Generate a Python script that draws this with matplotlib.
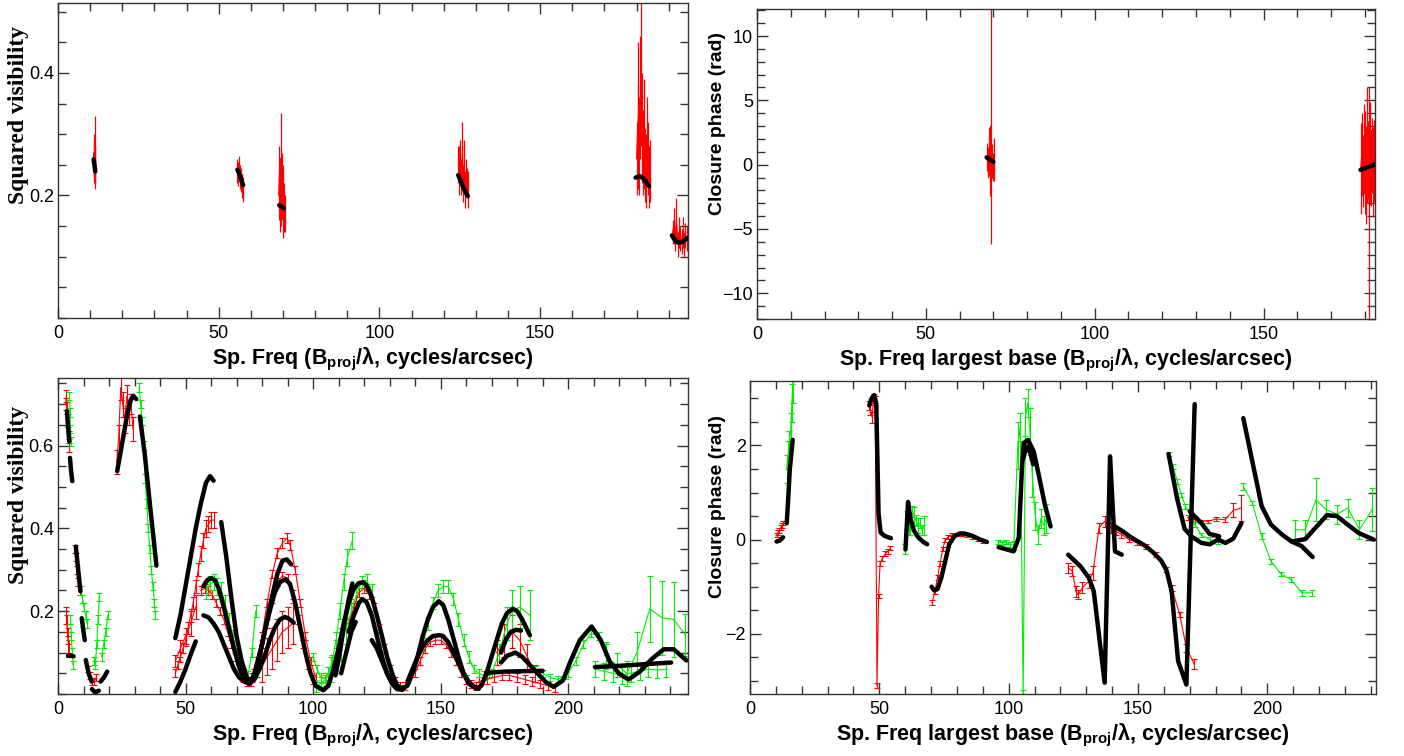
import matplotlib
matplotlib.use("Agg")
import matplotlib.pyplot as plt
from matplotlib.ticker import MultipleLocator, FixedLocator

RED = "#ff0000"
GREEN = "#00ee00"
SPINE = "#333333"

plt.rcParams["mathtext.fontset"] = "custom"
plt.rcParams["mathtext.bf"] = "Liberation Sans:bold"
plt.rcParams["mathtext.rm"] = "Liberation Sans"

XLABEL_VIS = r"Sp. Freq (B$_{\mathbf{proj}}$/λ, cycles/arcsec)"
XLABEL_CP = r"Sp. Freq largest base (B$_{\mathbf{proj}}$/λ, cycles/arcsec)"
YLABEL_VIS = "Squared visibility"
YLABEL_CP = "Closure phase (rad)"

# ---- top left: squared visibility, single dataset (x, y, err)
TL_RED = [
    ([11.2, 11.25, 11.3, 11.35, 11.4, 11.45, 11.5, 11.55, 11.6],
     [0.25, 0.27, 0.24, 0.26, 0.29, 0.23, 0.25, 0.24, 0.26],
     [0.02, 0.03, 0.02, 0.03, 0.04, 0.02, 0.03, 0.02, 0.02]),
    ([55.6, 55.9, 56.2, 56.5, 56.8, 57.1, 57.4, 57.7],
     [0.24, 0.235, 0.25, 0.23, 0.225, 0.22, 0.215, 0.21],
     [0.02, 0.02, 0.015, 0.02, 0.02, 0.015, 0.02, 0.02]),
    ([68.7, 68.9, 69.1, 69.3, 69.5, 69.7, 69.9, 70.1, 70.3, 70.5],
     [0.20, 0.23, 0.17, 0.26, 0.19, 0.22, 0.16, 0.21, 0.18, 0.17],
     [0.04, 0.05, 0.03, 0.075, 0.04, 0.05, 0.03, 0.04, 0.04, 0.03]),
    ([124.6, 124.9, 125.2, 125.5, 125.8, 126.1, 126.4, 126.7, 127.0, 127.3, 127.6],
     [0.25, 0.24, 0.26, 0.23, 0.27, 0.22, 0.25, 0.21, 0.23, 0.22, 0.21],
     [0.03, 0.04, 0.03, 0.03, 0.05, 0.03, 0.04, 0.03, 0.03, 0.025, 0.03]),
    ([180.0, 180.3, 180.6, 180.9, 181.2, 181.5, 181.8, 182.1, 182.4, 182.7, 183.0, 183.3, 183.6, 183.9, 184.2],
     [0.26, 0.30, 0.33, 0.28, 0.36, 0.40, 0.31, 0.27, 0.30, 0.25, 0.24, 0.29, 0.26, 0.23, 0.24],
     [0.06, 0.08, 0.12, 0.08, 0.10, 0.12, 0.09, 0.07, 0.09, 0.06, 0.06, 0.07, 0.06, 0.05, 0.05]),
    ([191.2, 191.6, 192.0, 192.4, 192.8, 193.2, 193.6, 194.0, 194.4, 194.8, 195.2, 195.6],
     [0.14, 0.15, 0.13, 0.16, 0.12, 0.14, 0.13, 0.125, 0.14, 0.12, 0.135, 0.13],
     [0.02, 0.03, 0.02, 0.035, 0.02, 0.025, 0.02, 0.02, 0.025, 0.02, 0.02, 0.02]),
]
TL_MODEL = [
    ([11.1, 11.35, 11.6], [0.259, 0.249, 0.239]),
    ([55.8, 56.3, 56.8, 57.2, 57.6], [0.242, 0.237, 0.229, 0.222, 0.217]),
    ([68.8, 69.5, 70.3], [0.184, 0.182, 0.179]),
    ([124.5, 125.2, 126.0, 126.8, 127.5], [0.233, 0.225, 0.214, 0.205, 0.199]),
    ([179.7, 180.5, 181.3, 182.0, 182.7, 183.3, 183.9], [0.229, 0.231, 0.231, 0.228, 0.224, 0.219, 0.215]),
    ([191.0, 191.8, 192.6, 193.4, 194.2, 195.0, 195.8], [0.135, 0.128, 0.124, 0.123, 0.124, 0.127, 0.131]),
]

# ---- top right: closure phase, single dataset
TR_RED = [
    ([68.0, 68.3, 68.6, 68.9, 69.2, 69.5, 69.8, 70.1],
     [0.6, 0.2, 1.0, -0.5, 3.0, 0.3, -0.2, 0.4],
     [1.1, 1.2, 1.9, 1.9, 9.2, 1.3, 1.1, 1.7]),
    ([178.8, 179.1, 179.4, 179.7, 180.0, 180.3, 180.6, 180.9, 181.2, 181.5, 181.8, 182.1, 182.4, 182.7, 183.0],
     [-0.3, 0.8, -0.5, 1.2, 0.2, -0.8, 1.5, 0.4, -3.0, 0.9, -0.2, 0.7, -0.6, 0.3, 0.5],
     [3.5, 3.2, 2.8, 3.5, 4.0, 3.8, 4.5, 3.0, 9.0, 4.0, 3.0, 2.9, 3.5, 3.2, 3.0]),
]
TR_MODEL = [
    ([68.0, 69.0, 70.0], [0.57, 0.40, 0.23]),
    ([178.7, 181.0, 183.3], [-0.41, -0.18, 0.05]),
]

# ---- bottom left: squared visibility, two datasets
BL_RED = [
    ([3.0, 3.3, 3.6, 3.9, 4.2, 4.5], [0.70, 0.72, 0.69, 0.66, 0.62, 0.60], [0.015, 0.015, 0.015, 0.015, 0.015, 0.015]),
    ([3.2, 3.5, 3.8, 4.1, 4.4], [0.19, 0.17, 0.14, 0.12, 0.11], [0.02, 0.02, 0.02, 0.02, 0.02]),
    ([6.5, 7.0, 7.5, 8.0, 8.5], [0.35, 0.33, 0.30, 0.27, 0.25], [0.01, 0.01, 0.01, 0.01, 0.01]),
    ([11.8, 12.6, 13.4, 14.2, 15.0], [0.06, 0.045, 0.03, 0.03, 0.04], [0.008, 0.008, 0.008, 0.008, 0.008]),
    ([23.0, 23.8, 24.6, 25.4, 26.2, 27.0, 27.8, 28.6, 29.4],
     [0.56, 0.62, 0.74, 0.70, 0.66, 0.72, 0.68, 0.70, 0.64],
     [0.03, 0.03, 0.03, 0.03, 0.03, 0.025, 0.03, 0.025, 0.03]),
    ([46, 47, 48, 49, 50, 51, 52, 53, 54, 55, 56, 57, 58, 59, 60, 61],
     [0.05, 0.07, 0.09, 0.11, 0.13, 0.16, 0.19, 0.22, 0.26, 0.30, 0.34, 0.37, 0.40, 0.41, 0.42, 0.42],
     [0.01, 0.01, 0.012, 0.012, 0.014, 0.014, 0.015, 0.015, 0.016, 0.016, 0.018, 0.018, 0.02, 0.02, 0.02, 0.02]),
    ([46, 48, 50, 52, 54], [0.08, 0.11, 0.14, 0.17, 0.21], [0.015, 0.02, 0.02, 0.03, 0.03]),
    ([56, 57.5, 59, 60.5, 62, 63.5, 65, 66.5, 68, 69.5, 71, 72.5, 74, 75.5, 77],
     [0.25, 0.255, 0.25, 0.24, 0.22, 0.20, 0.18, 0.15, 0.12, 0.09, 0.06, 0.04, 0.03, 0.03, 0.05],
     [0.01, 0.01, 0.01, 0.01, 0.01, 0.01, 0.01, 0.01, 0.01, 0.01, 0.01, 0.01, 0.01, 0.01, 0.01]),
    ([76, 78, 80, 82, 84, 86, 88, 89.7, 91, 93, 95, 97, 99, 101],
     [0.04, 0.08, 0.14, 0.22, 0.29, 0.34, 0.365, 0.376, 0.36, 0.30, 0.22, 0.14, 0.08, 0.04],
     [0.01, 0.01, 0.01, 0.01, 0.01, 0.012, 0.012, 0.012, 0.012, 0.01, 0.01, 0.01, 0.01, 0.01]),
    ([80, 82, 84, 86, 88, 90, 92], [0.07, 0.09, 0.11, 0.13, 0.15, 0.16, 0.17], [0.04, 0.045, 0.05, 0.05, 0.05, 0.05, 0.05]),
    ([78, 80, 82, 84, 86, 88, 90, 92, 94, 96, 98, 100],
     [0.05, 0.10, 0.17, 0.23, 0.27, 0.285, 0.28, 0.24, 0.18, 0.12, 0.07, 0.035],
     [0.01, 0.01, 0.01, 0.01, 0.01, 0.01, 0.01, 0.01, 0.01, 0.01, 0.01, 0.01]),
    ([114, 116, 118, 120, 122, 124, 126, 128, 130, 132, 134, 136],
     [0.17, 0.21, 0.245, 0.255, 0.24, 0.21, 0.16, 0.11, 0.06, 0.03, 0.02, 0.02],
     [0.01, 0.01, 0.01, 0.01, 0.01, 0.01, 0.01, 0.01, 0.01, 0.01, 0.01, 0.01]),
    ([140, 142, 144, 146, 148, 150, 152, 154, 156, 158, 160, 162, 164],
     [0.05, 0.08, 0.11, 0.125, 0.13, 0.13, 0.12, 0.10, 0.08, 0.05, 0.035, 0.025, 0.02],
     [0.01, 0.01, 0.01, 0.01, 0.01, 0.01, 0.01, 0.01, 0.01, 0.01, 0.01, 0.01, 0.01]),
    ([172, 175, 178, 181, 184, 187], [0.10, 0.13, 0.15, 0.13, 0.09, 0.05], [0.03, 0.04, 0.04, 0.04, 0.03, 0.02]),
    ([165, 168, 171, 174, 177, 180, 183, 186, 189, 192, 195],
     [0.03, 0.035, 0.04, 0.045, 0.045, 0.04, 0.035, 0.03, 0.025, 0.02, 0.015],
     [0.01, 0.01, 0.01, 0.01, 0.01, 0.01, 0.01, 0.01, 0.01, 0.01, 0.01]),
]
BL_GREEN = [
    ([4.5, 4.7, 4.9, 5.1], [0.72, 0.68, 0.64, 0.61], [0.01, 0.01, 0.01, 0.01]),
    ([4.9, 5.2, 5.6, 5.9], [0.18, 0.14, 0.10, 0.07], [0.01, 0.01, 0.01, 0.01]),
    ([9.0, 9.6, 10.2, 10.8, 11.4], [0.25, 0.23, 0.21, 0.19, 0.17], [0.01, 0.01, 0.01, 0.01, 0.01]),
    ([14.2, 14.6, 15.2, 15.7, 16.2], [0.08, 0.07, 0.12, 0.18, 0.235], [0.01, 0.01, 0.01, 0.01, 0.01]),
    ([17.1, 17.9, 18.7, 19.5], [0.09, 0.12, 0.15, 0.19], [0.01, 0.01, 0.01, 0.01]),
    ([31.8, 32.4, 33.0, 33.6, 34.2, 34.8, 35.4, 36.0, 36.6, 37.2, 37.8, 38.2],
     [0.74, 0.70, 0.66, 0.60, 0.52, 0.46, 0.40, 0.35, 0.30, 0.26, 0.22, 0.19],
     [0.01, 0.01, 0.01, 0.01, 0.01, 0.01, 0.01, 0.01, 0.01, 0.01, 0.01, 0.01]),
    ([58, 59.5, 61, 62.5, 64, 65.5, 67, 68.5, 70, 71.5, 73, 74.5, 76, 77.5],
     [0.25, 0.265, 0.27, 0.26, 0.25, 0.22, 0.18, 0.14, 0.10, 0.07, 0.05, 0.045, 0.10, 0.20],
     [0.02, 0.02, 0.02, 0.02, 0.02, 0.02, 0.015, 0.015, 0.01, 0.01, 0.01, 0.01, 0.01, 0.015]),
    ([100, 101.5, 103, 104.5, 106, 107.5, 109, 110.5, 112, 113.5, 115.4],
     [0.09, 0.06, 0.04, 0.037, 0.05, 0.08, 0.13, 0.20, 0.27, 0.33, 0.37],
     [0.01, 0.01, 0.01, 0.01, 0.015, 0.015, 0.02, 0.02, 0.02, 0.02, 0.02]),
    ([101, 103, 105, 107, 109, 111, 113, 115, 117, 119, 121, 123],
     [0.02, 0.025, 0.035, 0.06, 0.09, 0.12, 0.16, 0.20, 0.24, 0.27, 0.275, 0.25],
     [0.015, 0.015, 0.015, 0.03, 0.04, 0.04, 0.04, 0.03, 0.015, 0.015, 0.015, 0.015]),
    ([143, 145, 147, 149, 151, 153, 155, 157, 159, 161, 163, 165, 167, 169],
     [0.12, 0.17, 0.22, 0.25, 0.26, 0.26, 0.23, 0.18, 0.13, 0.09, 0.06, 0.05, 0.045, 0.05],
     [0.015, 0.015, 0.015, 0.015, 0.015, 0.015, 0.015, 0.015, 0.015, 0.015, 0.01, 0.01, 0.01, 0.01]),
    ([170, 173, 176, 178, 181, 185], [0.05, 0.10, 0.17, 0.20, 0.21, 0.19], [0.01, 0.02, 0.04, 0.05, 0.05, 0.06]),
    ([187, 190, 193, 196, 199], [0.06, 0.05, 0.04, 0.035, 0.045], [0.008, 0.008, 0.008, 0.008, 0.008]),
    ([200, 203, 206, 209, 212, 215], [0.05, 0.08, 0.12, 0.147, 0.14, 0.11], [0.01, 0.01, 0.01, 0.01, 0.01, 0.015]),
    ([210.5, 214, 217.5, 221, 224.5, 228, 231.5, 235, 238.5],
     [0.06, 0.055, 0.05, 0.045, 0.05, 0.055, 0.06, 0.058, 0.06],
     [0.02, 0.02, 0.02, 0.02, 0.02, 0.02, 0.02, 0.02, 0.02]),
    ([215, 219, 223, 227, 232, 236.8, 241.4, 246],
     [0.09, 0.07, 0.05, 0.10, 0.206, 0.184, 0.18, 0.142],
     [0.03, 0.03, 0.03, 0.05, 0.08, 0.09, 0.09, 0.05]),
]
BL_MODEL = [
    ([3.5, 4.0, 4.4], [0.683, 0.64, 0.61]),
    ([4.7, 5.1, 5.6], [0.57, 0.54, 0.514]),
    ([3.9, 5.0, 6.1], [0.092, 0.093, 0.091]),
    ([7.0, 7.9, 8.8], [0.356, 0.30, 0.248]),
    ([9.3, 9.9, 10.5], [0.183, 0.155, 0.13]),
    ([10.9, 12.0, 13.2], [0.082, 0.05, 0.03]),
    ([13.3, 14.5, 16.0], [0.012, 0.004, 0.008]),
    ([16.7, 18.0, 19.3], [0.03, 0.04, 0.054]),
    ([23.2, 25, 27, 28.5, 29.5, 30.7], [0.538, 0.60, 0.67, 0.71, 0.72, 0.712]),
    ([32.1, 34, 36, 38.6], [0.67, 0.58, 0.46, 0.31]),
    ([46, 48, 50, 52, 54, 56, 58, 59.6, 61], [0.135, 0.19, 0.26, 0.33, 0.40, 0.46, 0.51, 0.526, 0.515]),
    ([46, 48, 50, 52, 54], [0.005, 0.03, 0.06, 0.095, 0.127]),
    ([64, 66, 68, 70, 72, 74, 75.5, 77, 80, 83, 86, 88, 89.7, 91.4],
     [0.415, 0.33, 0.23, 0.14, 0.08, 0.04, 0.03, 0.05, 0.12, 0.21, 0.29, 0.322, 0.325, 0.313]),
    ([57, 58.5, 60, 61.5, 63, 65, 67, 69, 71, 73, 75, 77, 79, 81, 83, 85, 87, 89.3, 91, 93, 95, 97, 99,
      101, 104, 106, 108, 110, 112, 114, 116, 118, 119.7, 121, 123, 125, 127, 129, 131, 133, 135, 137,
      139, 141, 143, 145, 147, 149.3, 151, 153, 155, 157, 159, 161, 164, 166, 168, 170, 172, 174, 176,
      178.3, 180, 182, 185],
     [0.26, 0.275, 0.28, 0.275, 0.255, 0.21, 0.16, 0.11, 0.065, 0.035, 0.025, 0.04, 0.09, 0.15, 0.20,
      0.245, 0.27, 0.277, 0.265, 0.22, 0.16, 0.10, 0.05, 0.02, 0.009, 0.02, 0.06, 0.11, 0.17, 0.22,
      0.255, 0.268, 0.27, 0.262, 0.235, 0.19, 0.14, 0.09, 0.05, 0.02, 0.013, 0.02, 0.05, 0.09, 0.14,
      0.18, 0.21, 0.224, 0.215, 0.18, 0.135, 0.09, 0.05, 0.025, 0.013, 0.02, 0.05, 0.09, 0.13, 0.17,
      0.195, 0.206, 0.20, 0.18, 0.142]),
    ([57, 59, 61, 63, 65, 67, 69, 71, 73, 75, 77, 79, 81, 83, 85, 87, 89, 90.5, 92.4],
     [0.19, 0.185, 0.17, 0.15, 0.12, 0.09, 0.06, 0.04, 0.03, 0.025, 0.035, 0.06, 0.09, 0.13, 0.16, 0.18,
      0.186, 0.182, 0.172]),
    ([108.8, 110.5, 112, 113.7, 115.4], [0.045, 0.10, 0.16, 0.22, 0.267]),
    ([111, 113, 115, 116.7], [0.05, 0.10, 0.15, 0.174]),
    ([114, 116, 118, 119.3, 121, 123, 125, 127, 129, 131, 133, 135],
     [0.15, 0.19, 0.22, 0.229, 0.222, 0.19, 0.14, 0.09, 0.05, 0.025, 0.012, 0.01]),
    ([123, 125, 127, 129, 131, 133], [0.13, 0.11, 0.08, 0.05, 0.025, 0.012]),
    ([137, 139, 141, 143, 145, 147, 149.6, 151, 153, 155, 157, 159, 161, 163, 165],
     [0.03, 0.06, 0.09, 0.115, 0.13, 0.14, 0.142, 0.14, 0.125, 0.10, 0.075, 0.05, 0.03, 0.018, 0.013]),
    ([173.7, 175.5, 177.5, 179.6, 181.5], [0.10, 0.13, 0.15, 0.155, 0.153]),
    ([173.7, 176, 179.3, 182, 185, 188, 191, 194.3, 198, 201, 204.6, 209.2, 212.8, 216.4, 220, 223.7,
      228.3, 232.9, 237.5, 241.4, 246.4],
     [0.076, 0.092, 0.10, 0.09, 0.07, 0.05, 0.03, 0.017, 0.033, 0.08, 0.13, 0.163, 0.13, 0.077, 0.049,
      0.035, 0.055, 0.085, 0.108, 0.108, 0.081]),
    ([167.8, 175, 182, 190], [0.051, 0.054, 0.055, 0.056]),
    ([210.5, 220, 230, 240.4], [0.065, 0.068, 0.072, 0.076]),
]

# ---- bottom right: closure phase, two datasets
BR_RED = [
    ([10.3, 10.8, 11.3, 11.8, 12.3, 12.9], [0.10, 0.15, 0.20, 0.25, 0.30, 0.35], [0.05, 0.05, 0.05, 0.05, 0.05, 0.05]),
    ([45.9, 46.5, 47.2, 47.8, 48.4], [2.85, 2.75, 2.60, 3.00, 2.95], [0.1, 0.1, 0.12, 0.1, 0.1]),
    ([48.4, 49.1, 49.7, 50.3, 51.2, 52.3, 53.3, 54.3],
     [2.95, -3.1, -1.2, -0.5, -0.4, -0.3, -0.25, -0.18],
     [0.1, 0.05, 0.05, 0.05, 0.05, 0.05, 0.05, 0.05]),
    ([70.4, 71.5, 72.5, 73.5, 74.5, 75.5, 76.5, 78, 80, 82, 84, 86, 88, 90],
     [-1.34, -1.1, -0.8, -0.5, -0.2, 0.0, 0.05, 0.1, 0.1, 0.1, 0.08, 0.05, 0.0, -0.05],
     [0.05, 0.05, 0.05, 0.05, 0.05, 0.04, 0.04, 0.03, 0.03, 0.03, 0.03, 0.03, 0.03, 0.03]),
    ([123, 124.6, 126, 126.9, 128.5, 131, 132.6, 134.9, 137.1, 139.5, 141.4, 143.3, 146.6, 149.8, 153,
      156.9, 160.8, 163.1, 166.1, 168.7, 171.7],
     [-0.6, -0.67, -1.1, -1.17, -1.02, -0.88, -0.7, 0.25, 0.39, 0.25, 0.18, 0.12, 0.0, -0.07, -0.14,
      -0.32, -0.64, -1.03, -1.59, -2.3, -2.64],
     [0.1, 0.1, 0.12, 0.1, 0.12, 0.15, 0.15, 0.1, 0.12, 0.1, 0.08, 0.08, 0.05, 0.05, 0.05, 0.05, 0.05,
      0.06, 0.06, 0.08, 0.1]),
    ([169.3, 171.9, 174.5, 177.1, 180.3, 183.6, 186.8, 189.8],
     [0.47, 0.42, 0.39, 0.39, 0.44, 0.42, 0.62, 0.67],
     [0.05, 0.04, 0.03, 0.03, 0.04, 0.05, 0.15, 0.27]),
]
BR_GREEN = [
    ([14.2, 14.7, 15.2, 15.7, 16.2, 16.6], [1.5, 1.8, 2.0, 2.3, 2.9, 3.4], [0.3, 0.3, 0.3, 0.4, 0.4, 0.5]),
    ([60.1, 60.6, 61.3, 62.0, 62.8, 63.5, 64.2, 65.0, 65.8, 66.5, 67.2],
     [-0.2, 0.4, 0.25, 0.3, 0.6, 0.5, 0.4, 0.3, 0.35, 0.2, 0.3],
     [0.1, 0.2, 0.15, 0.2, 0.12, 0.2, 0.12, 0.15, 0.1, 0.1, 0.2]),
    ([96, 97.5, 99, 100.5, 102, 103.5, 104.5, 105.6, 106.5, 107.3, 108.2, 109.2, 110.3, 111.4, 112.5,
      113.6, 114.6],
     [-0.05, -0.07, -0.05, -0.10, -0.12, 2.0, 2.4, -3.3, 2.6, 2.9, 2.3, 1.3, 0.5, 0.1, 0.45, 0.3, 0.45],
     [0.05, 0.05, 0.05, 0.05, 0.1, 0.5, 0.3, 0.1, 0.4, 0.3, 0.5, 0.4, 0.3, 0.2, 0.2, 0.2, 0.3]),
    ([161.8, 163.6, 165.2, 166.8, 168.3, 170, 171.9, 174.5, 177.7, 181],
     [1.82, 1.55, 1.24, 0.95, 0.71, 0.57, 0.32, 0.10, 0.0, -0.04],
     [0.05, 0.05, 0.05, 0.05, 0.05, 0.05, 0.05, 0.05, 0.05, 0.05]),
    ([190.7, 194.2, 197.8, 201.4, 205.3, 209.2, 213.3, 217.2],
     [1.13, 0.78, 0.07, -0.46, -0.73, -0.85, -1.13, -1.13],
     [0.08, 0.05, 0.06, 0.05, 0.05, 0.05, 0.06, 0.06]),
    ([210.7, 214.6, 218.8, 222.6, 226.9, 231.1, 235.6, 240.5],
     [0.21, 0.21, 0.85, 0.64, 0.54, 0.67, 0.21, 0.64],
     [0.2, 0.2, 0.45, 0.2, 0.2, 0.2, 0.2, 0.45]),
]
BR_MODEL = [
    ([10.3, 11.5, 12.8], [-0.04, -0.02, 0.05]),
    ([14.2, 14.8, 15.4, 16.5], [0.35, 0.9, 1.5, 2.12]),
    ([46.1, 47.0, 48.0, 48.8, 49.3, 49.7, 50.5, 52.0, 54.5], [2.85, 3.0, 3.07, 2.9, 1.6, 0.55, 0.15, 0.08, 0.03]),
    ([60.1, 61.1, 62.0, 63.3, 65.0, 67.0, 68.5], [-0.21, 0.8, 0.45, 0.2, 0.05, -0.05, -0.1]),
    ([70.2, 71.2, 72.5, 74, 75.5, 77, 79, 81, 83, 86, 89, 91.6],
     [-1.0, -1.08, -1.05, -0.8, -0.45, -0.1, 0.07, 0.13, 0.13, 0.08, 0.0, -0.05]),
    ([96.1, 101.9, 103.9, 105.2, 105.8, 107.5, 109.7, 111.6, 114.0, 116.2],
     [-0.16, -0.25, 0.04, 1.6, 2.05, 2.12, 1.87, 1.38, 0.74, 0.28]),
    ([105.5, 106.5, 107.1, 108.3, 109.5], [1.7, 1.9, 1.98, 1.85, 1.6]),
    ([123, 127.8, 131, 132.9, 137.1, 139.2, 141.1, 143.7], [-0.32, -0.57, -0.81, -1.1, -3.04, 1.77, -0.25, -0.32]),
    ([141.1, 144, 147, 150, 153, 156, 159, 161, 163, 165.5, 168.7, 171.9],
     [0.28, 0.18, 0.06, -0.04, -0.14, -0.28, -0.45, -0.65, -1.1, -2.58, -3.08, 2.88]),
    ([161.8, 165.2, 168.0, 170.6, 174.5, 177.7, 181.0, 183.8, 186.8, 190.0],
     [1.82, 0.85, 0.23, 0.07, -0.07, -0.10, 0.0, -0.07, 0.02, 0.35]),
    ([170.0, 174.5, 177.7, 181.4], [0.6, 0.35, 0.12, 0.07]),
    ([190.7, 194.2, 197.8, 201.4, 205.6, 209.4, 213.3, 217.5], [2.58, 1.66, 0.71, 0.32, 0.11, -0.04, -0.14, -0.37]),
    ([209.4, 214.6, 219.1, 223.0, 226.9, 230.8, 235.3, 241.1], [-0.04, 0.01, 0.28, 0.52, 0.50, 0.33, 0.14, 0.0]),
]


def px_axes(fig, left, top, right, bottom, w=1404, h=756):
    return fig.add_axes([left / w, 1 - bottom / h, (right - left) / w, (bottom - top) / h])


def style_axes(ax, xlim, ylim, yticks, yminor):
    ax.set_xlim(*xlim)
    ax.set_ylim(*ylim)
    ax.xaxis.set_major_locator(MultipleLocator(50))
    ax.xaxis.set_minor_locator(MultipleLocator(10))
    ax.yaxis.set_major_locator(FixedLocator(yticks))
    ax.yaxis.set_minor_locator(MultipleLocator(yminor))
    ax.tick_params(which="both", direction="in", top=True, right=True, color=SPINE, width=1.0)
    ax.tick_params(which="major", length=8, labelsize=13)
    ax.tick_params(which="minor", length=6)
    ax.tick_params(axis="x", which="major", pad=5)
    ax.tick_params(axis="y", which="major", pad=3)
    for sp in ax.spines.values():
        sp.set_color(SPINE)
        sp.set_linewidth(1.0)
    for lab in ax.get_xticklabels() + ax.get_yticklabels():
        lab.set_fontfamily("Liberation Sans")


def draw_data(ax, segments, color, capsize=2.0, lw=0.8):
    for x, y, err in segments:
        ax.errorbar(x, y, yerr=err, color=color, lw=lw, elinewidth=lw, capsize=capsize, capthick=lw)


def draw_model(ax, segments):
    for x, y in segments:
        ax.plot(x, y, color="black", lw=3.2, solid_capstyle="round", solid_joinstyle="round", zorder=5)


def label_axes(ax, xlabel, ylabel, serif_y, ylab_pos):
    ax.set_xlabel(xlabel, fontsize=15.5, fontweight="bold", family="Liberation Sans", labelpad=3)
    if serif_y:
        ax.set_ylabel(ylabel, fontsize=17, fontweight="bold", family="Liberation Serif")
    else:
        ax.set_ylabel(ylabel, fontsize=14, fontweight="bold", family="Liberation Sans")
    ax.yaxis.set_label_coords(*ylab_pos)


fig = plt.figure(figsize=(14.04, 7.56), dpi=100)

ax_tl = px_axes(fig, 58, 3, 688, 318)
draw_data(ax_tl, TL_RED, RED, capsize=0, lw=0.9)
draw_model(ax_tl, TL_MODEL)
style_axes(ax_tl, (0, 196), (0, 0.514), [0.2, 0.4], 0.05)
label_axes(ax_tl, XLABEL_VIS, YLABEL_VIS, True, (-0.046, 0.645))

ax_tr = px_axes(fig, 757, 9, 1375, 319)
draw_data(ax_tr, TR_RED, RED, capsize=0, lw=0.9)
draw_model(ax_tr, TR_MODEL)
style_axes(ax_tr, (0, 183), (-12, 12.1), [-10, -5, 0, 5, 10], 1)
label_axes(ax_tr, XLABEL_CP, YLABEL_CP, False, (-0.05, 0.63))

ax_bl = px_axes(fig, 58, 378, 688, 694)
draw_data(ax_bl, BL_RED, RED)
draw_data(ax_bl, BL_GREEN, GREEN)
draw_model(ax_bl, BL_MODEL)
style_axes(ax_bl, (0, 247), (0, 0.763), [0.2, 0.4, 0.6], 0.05)
label_axes(ax_bl, XLABEL_VIS, YLABEL_VIS, True, (-0.046, 0.63))

ax_br = px_axes(fig, 750, 381, 1376, 694)
draw_data(ax_br, BR_RED, RED)
draw_data(ax_br, BR_GREEN, GREEN)
draw_model(ax_br, BR_MODEL)
style_axes(ax_br, (0, 242), (-3.28, 3.37), [-2, 0, 2], 0.5)
label_axes(ax_br, XLABEL_CP, YLABEL_CP, False, (-0.038, 0.6))

fig.savefig("out.png", dpi=100)
plt.close(fig)
